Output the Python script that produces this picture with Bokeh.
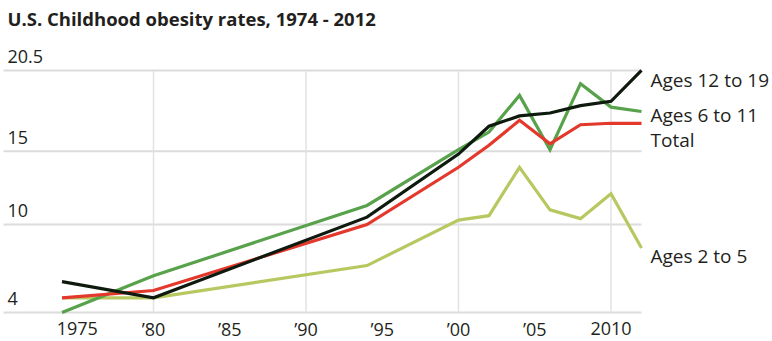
from bokeh.plotting import figure
from bokeh.models import Range1d, Label
from bokeh.embed import file_html
from bokeh.resources import INLINE
from bokeh.core.properties import value

# Childhood obesity prevalence (%), NHANES survey periods
years = [1974, 1980, 1994, 2000, 2002, 2004, 2006, 2008, 2010, 2012]
ages_12_19 = [6.1, 5.0, 10.5, 14.8, 16.7, 17.4, 17.6, 18.1, 18.4, 20.5]
ages_6_11 = [4.0, 6.5, 11.3, 15.1, 16.3, 18.8, 15.1, 19.6, 18.0, 17.7]
total = [5.0, 5.5, 10.0, 13.9, 15.4, 17.1, 15.5, 16.8, 16.9, 16.9]
ages_2_5 = [5.0, 5.0, 7.2, 10.3, 10.6, 13.9, 11.0, 10.4, 12.1, 8.4]

y_ticks = [4, 10, 15, 20.5]
y_tick_labels = ["4", "10", "15", "20.5"]
x_ticks = [1975, 1980, 1985, 1990, 1995, 2000, 2005, 2010]
x_tick_labels = ["1975", "\u201980", "\u201985", "\u201990", "\u201995", "\u201900", "\u201905", "2010"]
v_grid = [1980, 1990, 2000, 2010]

W, H = 772, 341
FONT = "Open Sans"
TEXT_COLOR = "#231f20"

p = figure(width=W, height=H, output_backend="svg", toolbar_location=None,
           x_axis_type=None, y_axis_type=None, min_border=0,
           x_range=Range1d(1969.967, 2020.59), y_range=Range1d(2.023, 25.27))
p.grid.visible = False
p.outline_line_color = None
p.background_fill_color = "white"
p.border_fill_color = "white"

x_left = p.x_range.start + 3 / 15.25
x_right = years[-1]
y_lo, y_hi = min(y_ticks), max(y_ticks)

# grid
p.segment(x0=[x_left] * len(y_ticks), x1=[x_right] * len(y_ticks), y0=y_ticks, y1=y_ticks,
          line_color="#dcdcdc", line_width=2)
p.segment(x0=v_grid, x1=v_grid, y0=[y_lo] * len(v_grid), y1=[y_hi] * len(v_grid),
          line_color="#e2e2e2", line_width=1.5)

# series: values, colour, end label, label offset below the line end (px)
series = [
    (ages_2_5, "#b8c860", "Ages 2 to 5", 8),
    (ages_6_11, "#58a24c", "Ages 6 to 11", 3),
    (total, "#e3382b", "Total", 16.5),
    (ages_12_19, "#0f1a0f", "Ages 12 to 19", 10),
]
for vals, color, name, off in series:
    p.line(years, vals, line_color=color, line_width=3.2, line_join="miter")

for vals, color, name, off in series:
    p.text(x=[years[-1]], y=[vals[-1]], text=[name], x_offset=9, y_offset=off,
           text_font=value(FONT), text_font_size="19px", text_color=TEXT_COLOR,
           text_baseline="alphabetic", text_align="left")

# y tick labels sit above their gridlines
p.text(x=[p.x_range.start] * len(y_ticks), y=y_ticks, text=y_tick_labels,
       x_offset=7, y_offset=-14, text_font=value(FONT), text_font_size="18px",
       text_color=TEXT_COLOR, text_baseline="alphabetic", text_align="left")

# x tick labels
p.text(x=x_ticks, y=[y_lo] * len(x_ticks), text=x_tick_labels, y_offset=16,
       text_font=value(FONT), text_font_size="18px", text_color=TEXT_COLOR,
       text_baseline="alphabetic", text_align="center")

title = Label(x=7, y=H - 17.5, x_units="screen", y_units="screen",
              text="U.S. Childhood obesity rates, 1974 - 2012",
              text_font=FONT, text_font_size="18.5px", text_font_style="bold",
              text_color=TEXT_COLOR, text_baseline="alphabetic", text_align="left")
p.add_layout(title)

open("out.html", "w").write(file_html(p, INLINE))
